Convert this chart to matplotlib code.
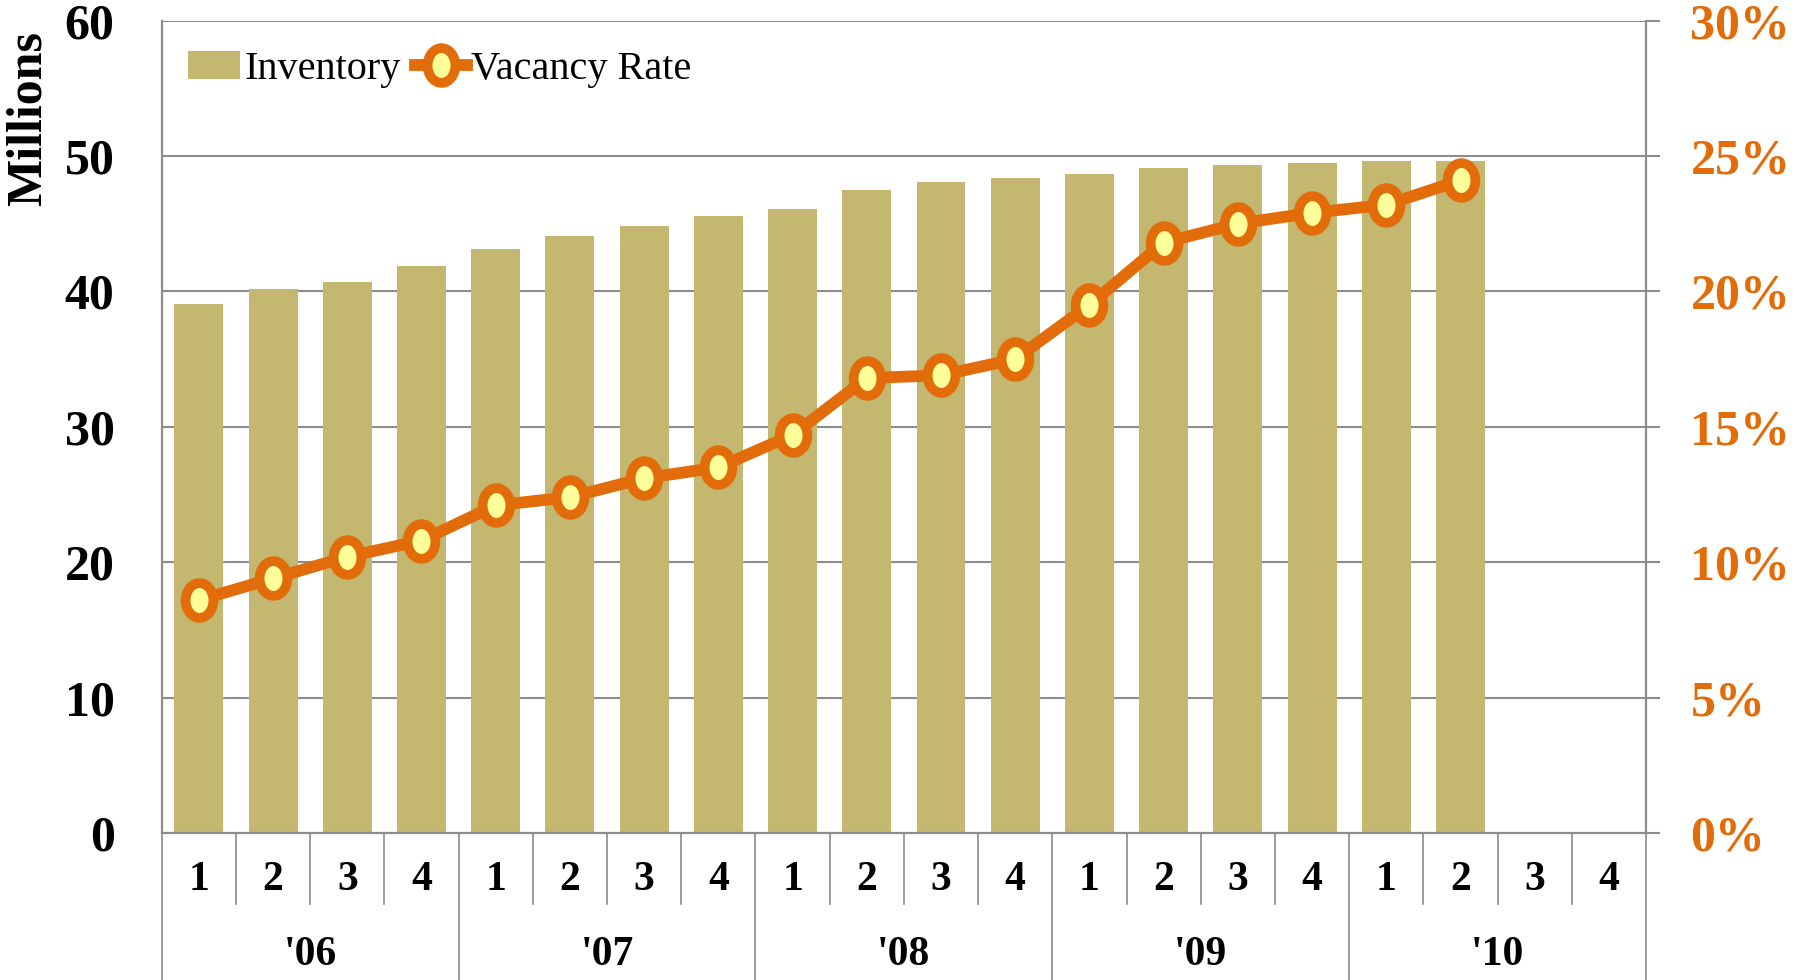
import numpy as np
import matplotlib.pyplot as plt
from matplotlib.path import Path
from matplotlib.transforms import Affine2D, blended_transform_factory

# quarterly inventory (millions) and vacancy rate (%), 2006 Q1 - 2010 Q2
years = ["'06", "'07", "'08", "'09", "'10"]
quarters = ["1", "2", "3", "4"]
inventory = [39.1, 40.2, 40.7, 41.9, 43.1, 44.1, 44.8, 45.6, 46.1, 47.5,
             48.1, 48.4, 48.7, 49.1, 49.3, 49.5, 49.6, 49.6]
vacancy = [8.6, 9.4, 10.2, 10.8, 12.1, 12.4, 13.1, 13.5, 14.7, 16.8,
           16.9, 17.5, 19.5, 21.8, 22.5, 22.9, 23.2, 24.1]

BAR = '#C4B76F'
ORANGE = '#E36C0A'
GRID = '#8C8C8C'
plt.rcParams['font.family'] = ['Liberation Serif', 'DejaVu Serif']

# slightly tall oval marker
oval = Path.unit_circle().transformed(Affine2D().scale(1.0, 1.25))

n_slots = len(years) * len(quarters)
x = np.arange(len(inventory))

fig = plt.figure(figsize=(17.97, 9.8), dpi=100)
ax = fig.add_axes([0.09, 0.15, 0.826, 0.829])
ax2 = ax.twinx()

ax.bar(x, inventory, width=0.66, color=BAR, zorder=2, label='Inventory')
ax2.plot(x, vacancy, color=ORANGE, lw=8.5, marker=oval, ms=25,
         mfc='#FFFF99', mec=ORANGE, mew=7, zorder=3, label='Vacancy Rate')

ax.set_xlim(-0.5, n_slots - 0.5)
ax.set_ylim(0, 60)
ax2.set_ylim(0, 30)
ax.set_yticks(np.arange(0, 61, 10))
ax2.set_yticks(np.arange(0, 31, 5))
ax2.set_yticklabels([f'{v}%' for v in range(0, 31, 5)])
ax.yaxis.grid(True, color=GRID, lw=1.5, zorder=0)
ax.set_axisbelow(True)
ax.set_xticks([])

for a in (ax, ax2):
    for s in a.spines.values():
        s.set_color(GRID)
        s.set_linewidth(1.5)
ax.spines['top'].set_visible(False)
ax2.spines['top'].set_visible(False)

ax.tick_params(axis='y', length=0, pad=34, labelsize=36)
ax2.tick_params(axis='y', length=10, width=1.5, color=GRID, pad=22,
                labelsize=36, labelcolor=ORANGE)
for lab in ax.get_yticklabels() + ax2.get_yticklabels():
    lab.set_fontweight('bold')

ax2.set_zorder(ax.get_zorder() + 1)
ax2.patch.set_visible(False)

# two-level category axis: quarters then years
tr = blended_transform_factory(ax.transData, ax.transAxes)
for i in range(n_slots + 1):
    xb = i - 0.5
    depth = -0.28 if i % 4 == 0 else -0.088
    ax.plot([xb, xb], [0, depth], transform=tr, color=GRID, lw=1.2,
            clip_on=False)
for i in range(n_slots):
    ax.text(i, -0.058, quarters[i % 4], transform=tr, ha='center',
            va='center', fontsize=30, fontweight='bold')
for j, yr in enumerate(years):
    ax.text(j * 4 + 1.5, -0.15, yr, transform=tr, ha='center',
            va='center', fontsize=30, fontweight='bold')

fig.text(0.016, 0.879, 'Millions', rotation=90, ha='center', va='center',
         fontsize=36, fontweight='bold')

h1, l1 = ax.get_legend_handles_labels()
h2, l2 = ax2.get_legend_handles_labels()
ax2.legend(h1 + h2, l1 + l2, loc='upper left', bbox_to_anchor=(0.0, 0.995),
           ncol=2, frameon=False, fontsize=29, handlelength=1.3,
           handletextpad=0.1, columnspacing=0.35, borderaxespad=0.25)

fig.savefig('out.png', dpi=100)
